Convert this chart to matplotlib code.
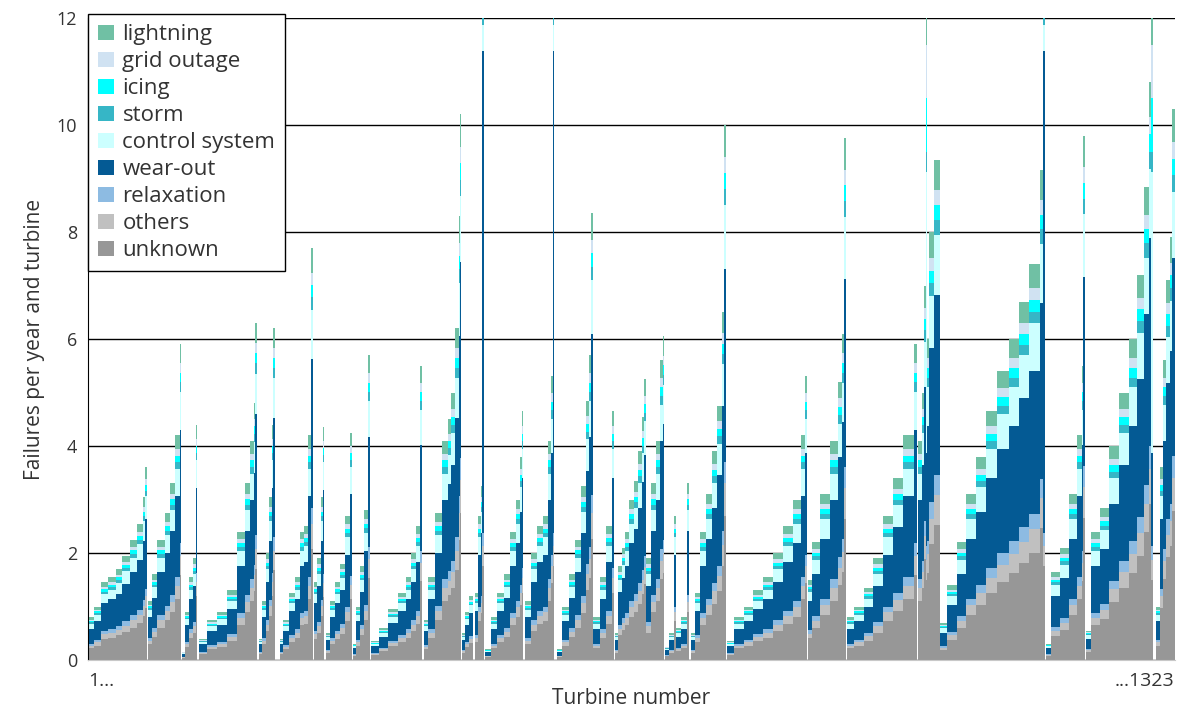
import numpy as np
import matplotlib.pyplot as plt
from matplotlib.patches import Patch

plt.rcParams['font.family'] = ['Open Sans', 'DejaVu Sans']

# failure causes, stacked from the bottom up
categories = ["unknown", "others", "relaxation", "wear-out", "control system",
              "storm", "icing", "grid outage", "lightning"]
colors = ["#979797", "#c0c0c0", "#8dbbe2", "#045a94", "#ccffff",
          "#36b6c6", "#00ffff", "#d0e2f2", "#70c0a4"]

# typical share of each cause in a turbine's failure rate
shares = [0.27, 0.06, 0.04, 0.36, 0.12, 0.03, 0.03, 0.03, 0.06]
# shares for the bars that run off the top of the chart
wear_mix = [0.14, 0.03, 0.02, 0.72, 0.04, 0.01, 0.01, 0.01, 0.02]
ctrl_mix = [0.12, 0.03, 0.02, 0.14, 0.42, 0.03, 0.08, 0.08, 0.08]
spike_mix = ["wear", "wear", "ctrl", "wear", "ctrl"]

# failures per year and turbine, one value per run of turbines (0 = gap between farms)
run_totals = [
    0.8, 1.0, 1.45, 1.55, 1.7, 1.95, 2.25, 2.55, 3.05, 3.6, 0,
    1.1, 1.6, 2.25, 2.75, 3.3, 4.2, 5.9, 0,
    0.15, 0.9, 1.55, 1.9, 4.4, 5.4, 0,
    0.4, 0.75, 0.9, 1.3, 2.4, 3.3, 4.1, 4.8, 6.3, 0,
    0.4, 1.1, 2.0, 3.05, 4.4, 6.2, 0,
    0.4, 0.75, 1.25, 1.55, 2.4, 2.5, 4.2, 7.7, 0,
    1.45, 1.9, 3.05, 4.35, 0,
    0.5, 1.1, 1.45, 1.8, 2.7, 4.25, 0,
    0.3, 1.0, 1.75, 2.8, 5.7, 0,
    0.35, 0.6, 0.95, 1.25, 1.55, 2.0, 2.5, 5.5, 0,
    0.75, 1.55, 2.75, 4.1, 4.5, 5.0, 6.2, 8.3, 10.2, 0,
    0.5, 0.9, 1.2, 2.8, 0,
    1.25, 2.7, 3.25, 12.5, 0,
    0.2, 0.8, 1.25, 1.6, 2.4, 3.0, 3.8, 4.65, 0,
    1.1, 2.0, 2.5, 2.7, 4.1, 5.3, 12.5, 0,
    0.2, 1.0, 1.6, 2.25, 3.25, 4.85, 5.7, 8.35, 0,
    0.8, 1.55, 2.5, 4.65, 0,
    0.5, 1.75, 2.1, 2.4, 3.0, 3.35, 3.9, 4.55, 5.25, 0,
    1.9, 3.3, 4.1, 5.6, 6.05, 0,
    0.25, 0.5, 2.7, 0.6, 0.8, 3.3, 0,
    0.5, 1.25, 2.4, 3.1, 3.9, 4.75, 6.5, 10.0, 0,
    0.35, 0.8, 1.0, 1.3, 1.55, 2.0, 2.5, 3.0, 4.2, 5.3, 0,
    1.5, 2.2, 3.1, 4.1, 5.2, 6.1, 9.75, 0,
    0.8, 1.0, 1.35, 1.9, 2.7, 3.4, 4.2, 5.9, 0,
    4.1, 5.0, 7.0, 12.5, 6.0, 8.0, 9.35, 0,
    0.7, 1.4, 2.2, 3.1, 3.8, 4.65, 5.4, 6.0, 6.7, 7.4, 9.15, 12.5, 0,
    0.3, 1.65, 2.1, 3.1, 4.2, 5.5, 9.8, 0,
    0.55, 2.4, 2.85, 4.0, 5.0, 6.0, 7.2, 8.85, 10.8, 12.5, 0,
    1.0, 3.6, 5.6, 7.1, 7.9, 10.3,
]
# number of turbines in each run
run_counts = [
    7, 9, 9, 9, 8, 9, 9, 7, 3, 2, 1,
    5, 7, 9, 7, 6, 6, 1, 1,
    4, 5, 5, 3, 1, 1, 2,
    10, 12, 12, 12, 10, 7, 4, 2, 2, 2,
    4, 5, 4, 3, 2, 2, 6,
    4, 7, 8, 6, 5, 5, 3, 2, 2,
    4, 4, 3, 1, 2,
    5, 7, 6, 6, 6, 2, 1,
    4, 5, 5, 5, 2, 2,
    9, 12, 12, 9, 7, 6, 5, 2, 2,
    6, 8, 8, 8, 4, 5, 4, 2, 1, 1,
    4, 5, 4, 1, 2,
    4, 3, 2, 2, 1,
    7, 8, 8, 8, 7, 5, 3, 1, 2,
    7, 8, 7, 6, 4, 2, 2, 3,
    7, 8, 8, 7, 6, 4, 2, 2, 1,
    8, 8, 7, 2, 1,
    4, 5, 4, 5, 6, 5, 5, 2, 2, 1,
    6, 6, 5, 3, 2, 1,
    5, 6, 2, 6, 8, 2, 2,
    6, 6, 7, 7, 6, 6, 3, 2, 2,
    8, 12, 12, 12, 12, 12, 12, 10, 5, 3, 1,
    5, 10, 12, 10, 5, 2, 2, 2,
    8, 12, 12, 12, 12, 12, 14, 4, 1,
    4, 3, 2, 2, 2, 6, 7, 1,
    8, 12, 12, 12, 12, 13, 15, 12, 12, 14, 4, 2, 2,
    6, 10, 12, 10, 5, 2, 2, 2,
    6, 10, 12, 12, 12, 10, 8, 7, 2, 2, 4,
    5, 4, 4, 4, 3, 3,
]

totals = np.array(run_totals)
counts = np.array(run_counts)
left = np.concatenate([[0], np.cumsum(counts)[:-1]])

mix = np.tile(shares, (len(totals), 1))
spikes = np.where(totals >= 12)[0]
for k, kind in zip(spikes, spike_mix):
    mix[k] = wear_mix if kind == "wear" else ctrl_mix
parts = mix * totals[:, None]

fig = plt.figure(figsize=(11.77, 7.11), dpi=100)
ax = fig.add_axes([0.0748, 0.0717, 0.9232, 0.903])

bottom = np.zeros(len(totals))
for j in range(len(categories)):
    ax.bar(left, parts[:, j], width=counts, bottom=bottom, align="edge",
           color=colors[j], linewidth=0)
    bottom += parts[:, j]

ax.set_xlim(0, counts.sum())
ax.set_ylim(0, 12)
ax.set_yticks(np.arange(0, 13, 2))
ax.set_xticks([])
ax.set_axisbelow(True)
ax.yaxis.grid(True, color="black", linewidth=1)
ax.tick_params(axis="y", length=0, pad=8, labelsize=13, colors="#333333")
for s in ["top", "right"]:
    ax.spines[s].set_visible(False)
ax.spines["left"].set_color("black")
ax.spines["bottom"].set_color("#c8c8c8")

ax.set_ylabel("Failures per year and turbine", fontsize=15, color="#333333", labelpad=8)
ax.set_xlabel("Turbine number", fontsize=15, color="#333333", labelpad=20)
ax.text(0, -0.018, "1...", transform=ax.transAxes, ha="left", va="top",
        fontsize=14, color="#333333")
ax.text(1, -0.018, "...1323", transform=ax.transAxes, ha="right", va="top",
        fontsize=14, color="#333333")

handles = [Patch(facecolor=colors[j], label=categories[j])
           for j in range(len(categories) - 1, -1, -1)]
leg = ax.legend(handles=handles, loc="upper left", bbox_to_anchor=(0.0, 1.006),
                fontsize=16, frameon=True, fancybox=False, framealpha=1,
                edgecolor="black", labelspacing=0.27, handlelength=0.7,
                handleheight=0.7, handletextpad=0.4, borderpad=0.45,
                borderaxespad=0.0)
leg.get_frame().set_linewidth(1)
for t in leg.get_texts():
    t.set_color("#333333")

fig.savefig("out.png", dpi=100)
